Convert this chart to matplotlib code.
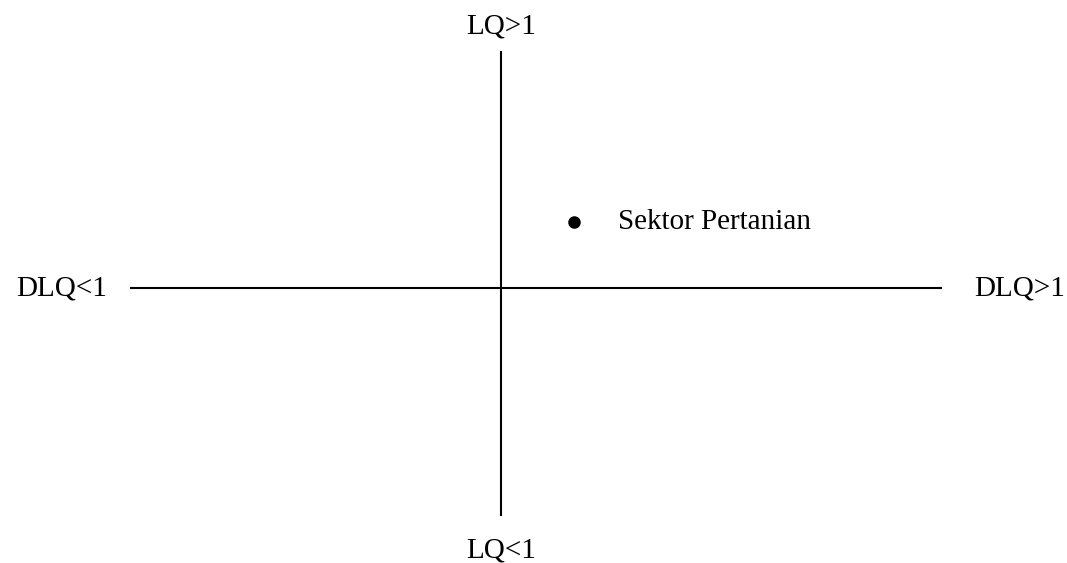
import matplotlib
matplotlib.use('Agg')
from matplotlib import pyplot as plt

# quadrant axes, in units measured from the centre of the cross
h_axis = [-370, 440]
v_axis = [-227, 236]
axis_labels = ['DLQ<1', 'DLQ>1', 'LQ<1', 'LQ>1']

# sector placed in the quadrant
sector_names = ['Sektor Pertanian']
sector_x = [73]
sector_y = [66]

plt.rcParams['font.family'] = ['Liberation Serif', 'DejaVu Serif']

fig = plt.figure(figsize=(10.67, 5.63), dpi=100)
ax = fig.add_axes([0, 0, 1, 1])
ax.set_xlim(-501, 566)
ax.set_ylim(-275, 288)
ax.axis('off')

ax.plot(h_axis, [0, 0], color='black', lw=1.5)
ax.plot([0, 0], v_axis, color='black', lw=1.5)

ax.text(-439, 0, axis_labels[0], fontsize=21, ha='center', va='center')
ax.text(519, 0, axis_labels[1], fontsize=21, ha='center', va='center')
ax.text(0, -262, axis_labels[2], fontsize=21, ha='center', va='center')
ax.text(0, 262, axis_labels[3], fontsize=21, ha='center', va='center')

ax.plot(sector_x, sector_y, 'o', color='black', ms=8)
for name, x, y in zip(sector_names, sector_x, sector_y):
    ax.text(x + 44, y, name, fontsize=21, ha='left', va='center')

fig.savefig('out.png', dpi=100)
